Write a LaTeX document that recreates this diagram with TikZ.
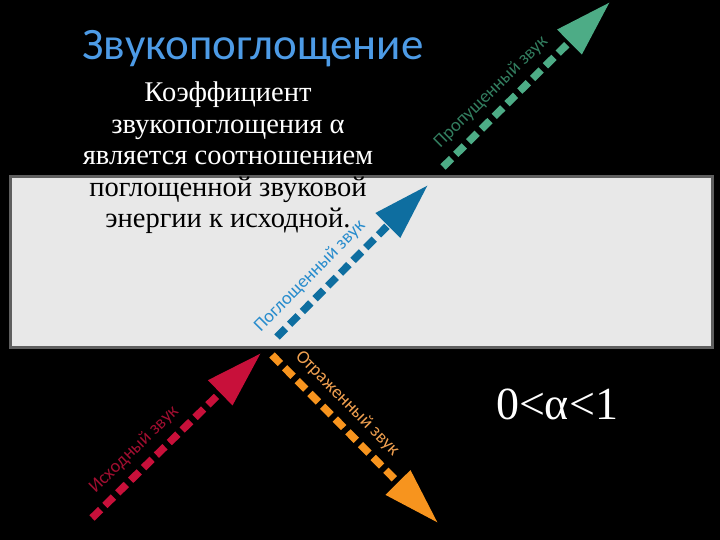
\documentclass[tikz,border=0pt]{standalone}
\usepackage{fontspec}
\setmainfont{Liberation Serif}
\newfontfamily\labelfont{Carlito}
\usetikzlibrary{arrows.meta}

\definecolor{titleblue}{RGB}{77,155,230}
\definecolor{panelgray}{RGB}{232,232,232}
\definecolor{paneledge}{RGB}{95,95,95}
\definecolor{incred}{RGB}{200,16,58}
\definecolor{incredtext}{RGB}{160,14,48}
\definecolor{reflorange}{RGB}{247,148,30}
\definecolor{refltext}{RGB}{240,160,80}
\definecolor{absblue}{RGB}{14,110,160}
\definecolor{abstext}{RGB}{40,140,205}
\definecolor{transgreen}{RGB}{77,172,134}
\definecolor{transtext}{RGB}{50,125,95}

\begin{document}
\begin{tikzpicture}[x=1pt, y=-1pt,
    % styles
    wave/.style={line width=7.5pt, dash pattern=on 12pt off 6pt,
        -{Triangle[length=57pt, width=33pt]}},
    wavelabel/.style={font=\labelfont\fontsize{18.5}{18.5}\selectfont,
        sloped, above=8pt, inner sep=0pt},
    bodytext/.style={align=center, inner sep=0pt,
        font=\fontsize{28.5}{31.5}\selectfont}
]

% --- background ---
\fill[black] (0,0) rectangle (720,540);
\useasboundingbox (0,0) rectangle (720,540);

% --- panel ---
\draw[fill=panelgray, draw=paneledge, line width=3pt] (10,177) rectangle (712,347);

% --- end points ---
\coordinate (inc-start)   at (92,518);
\coordinate (inc-tip)     at (261,353);
\coordinate (refl-start)  at (272,355);
\coordinate (refl-tip)    at (438,523);
\coordinate (abs-start)   at (277,337);
\coordinate (abs-tip)     at (428,185);
\coordinate (trans-start) at (443,167);
\coordinate (trans-tip)   at (610,2);

% --- waves ---
\draw[wave, incred] (inc-start) -- (inc-tip)
    node[wavelabel, pos=0.33, text=incredtext] {Исходный звук};
\draw[wave, reflorange] (refl-start) -- (refl-tip)
    node[wavelabel, pos=0.37, text=refltext] {Отраженный звук};
\draw[wave, absblue] (abs-start) -- (abs-tip)
    node[wavelabel, pos=0.31, text=abstext] {Поглощенный звук};
\draw[wave, transgreen] (trans-start) -- (trans-tip)
    node[wavelabel, pos=0.37, text=transtext] {Пропущенный звук};

% --- texts ---
\node[anchor=base, text=titleblue, font=\labelfont\fontsize{45}{45}\selectfont]
    (title) at (253,60) {Звукопоглощение};
\node[bodytext, anchor=north] (definition) at (228,82) {%
    \textcolor{white}{Коэффициент}\\
    \textcolor{white}{звукопоглощения α}\\
    \textcolor{white}{является соотношением}\\
    \textcolor{black}{поглощенной звуковой}\\
    \textcolor{black}{энергии к исходной.}};
\node[text=white, font=\fontsize{46}{46}\selectfont] (range) at (557,404) {0<α<1};

\end{tikzpicture}
\end{document}
